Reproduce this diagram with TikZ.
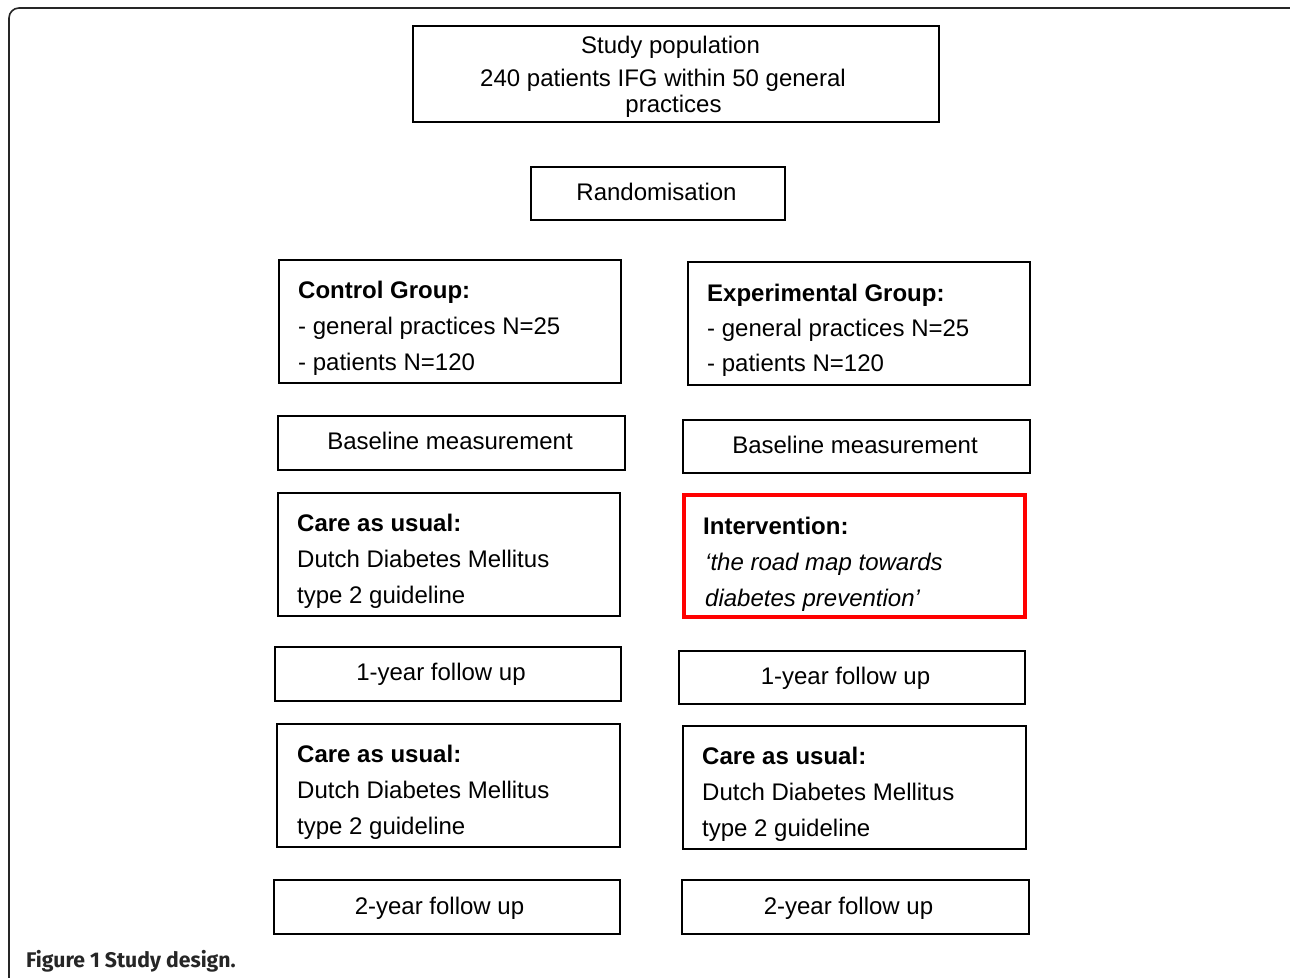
\documentclass[tikz,border=0pt]{standalone}
\usepackage{fontspec}
\setmainfont{Liberation Sans}
\newfontfamily\capfont{Fira Sans}
\begin{document}
\begin{tikzpicture}[x=1pt,y=-1pt,
  box/.style={draw=black,line width=1.6pt,inner sep=0pt,rectangle},
  redbox/.style={draw=red,line width=3.6pt,inner sep=0pt,rectangle},
  txt/.style={inner sep=0pt,font=\fontsize{24}{28}\selectfont},
  frame/.style={draw=black!85,line width=1.6pt,rounded corners=10pt}]
\useasboundingbox (0,0) rectangle (1290,977);
\coordinate (fa) at (9,985);
\coordinate (fb) at (1292,8);
\draw[frame] (fa) |- (fb);

% boxes
\node[box,minimum width=526,minimum height=96] (pop) at (676,74) {};
\node[box,minimum width=254,minimum height=53] (rand) at (658,193.5) {};
\node[box,minimum width=342,minimum height=123] (ctrl) at (450,321.5) {};
\node[box,minimum width=342,minimum height=123] (exp) at (859,323.5) {};
\node[box,minimum width=347,minimum height=54] (baseL) at (451.5,443) {};
\node[box,minimum width=347,minimum height=53] (baseR) at (856.5,446.5) {};
\node[box,minimum width=342,minimum height=123] (careL) at (449,554.5) {};
\node[redbox,minimum width=341,minimum height=122] (interv) at (854.5,556) {};
\node[box,minimum width=346,minimum height=54] (oneL) at (448,674) {};
\node[box,minimum width=346,minimum height=53] (oneR) at (852,677.5) {};
\node[box,minimum width=343,minimum height=123] (careL2) at (448.5,785.5) {};
\node[box,minimum width=343,minimum height=123] (careR2) at (854.5,787.5) {};
\node[box,minimum width=346,minimum height=54] (twoL) at (447,907) {};
\node[box,minimum width=347,minimum height=54] (twoR) at (855.5,907) {};

% texts
\node[txt,anchor=base] (pop1) at (670.5,53) {Study population};
\node[txt,anchor=base] (pop2) at (663,86) {240 patients IFG within 50 general};
\node[txt,anchor=base] (pop3) at (673.5,112) {practices};
\node[txt,anchor=base] (randt) at (656.5,200) {Randomisation};

\node[txt,anchor=base west] (c1) at (298,298) {\bfseries Control Group:};
\node[txt,anchor=base west] (c2) at (298,334) {- general practices N=25};
\node[txt,anchor=base west] (c3) at (298,370) {- patients N=120};
\node[txt,anchor=base west] (e1) at (707,301) {\bfseries Experimental Group:};
\node[txt,anchor=base west] (e2) at (707,336) {- general practices N=25};
\node[txt,anchor=base west] (e3) at (707,371) {- patients N=120};

\node[txt,anchor=base] (bLt) at (450,449) {Baseline measurement};
\node[txt,anchor=base] (bRt) at (855,453) {Baseline measurement};

\node[txt,anchor=base west] (l1) at (297,531) {\bfseries Care as usual:};
\node[txt,anchor=base west] (l2) at (297,567) {Dutch Diabetes Mellitus};
\node[txt,anchor=base west] (l3) at (297,603) {type 2 guideline};
\node[txt,anchor=base west] (i1) at (703,534) {\bfseries Intervention:};
\node[txt,anchor=base west] (i2) at (705,570) {\itshape ‘the road map towards};
\node[txt,anchor=base west] (i3) at (705,606) {\itshape diabetes prevention’};

\node[txt,anchor=base] (oLt) at (441,680) {1-year follow up};
\node[txt,anchor=base] (oRt) at (845.5,684) {1-year follow up};

\node[txt,anchor=base west] (m1) at (297,762) {\bfseries Care as usual:};
\node[txt,anchor=base west] (m2) at (297,798) {Dutch Diabetes Mellitus};
\node[txt,anchor=base west] (m3) at (297,834) {type 2 guideline};
\node[txt,anchor=base west] (r1) at (702,764) {\bfseries Care as usual:};
\node[txt,anchor=base west] (r2) at (702,800) {Dutch Diabetes Mellitus};
\node[txt,anchor=base west] (r3) at (702,836) {type 2 guideline};

\node[txt,anchor=base] (tLt) at (439.5,914) {2-year follow up};
\node[txt,anchor=base] (tRt) at (848.5,914) {2-year follow up};

\node[inner sep=0pt,anchor=base west,font=\capfont\bfseries\fontsize{21.2}{25}\selectfont,text=black!85] (cap) at (26,967) {Figure 1 Study design.};
\end{tikzpicture}
\end{document}
